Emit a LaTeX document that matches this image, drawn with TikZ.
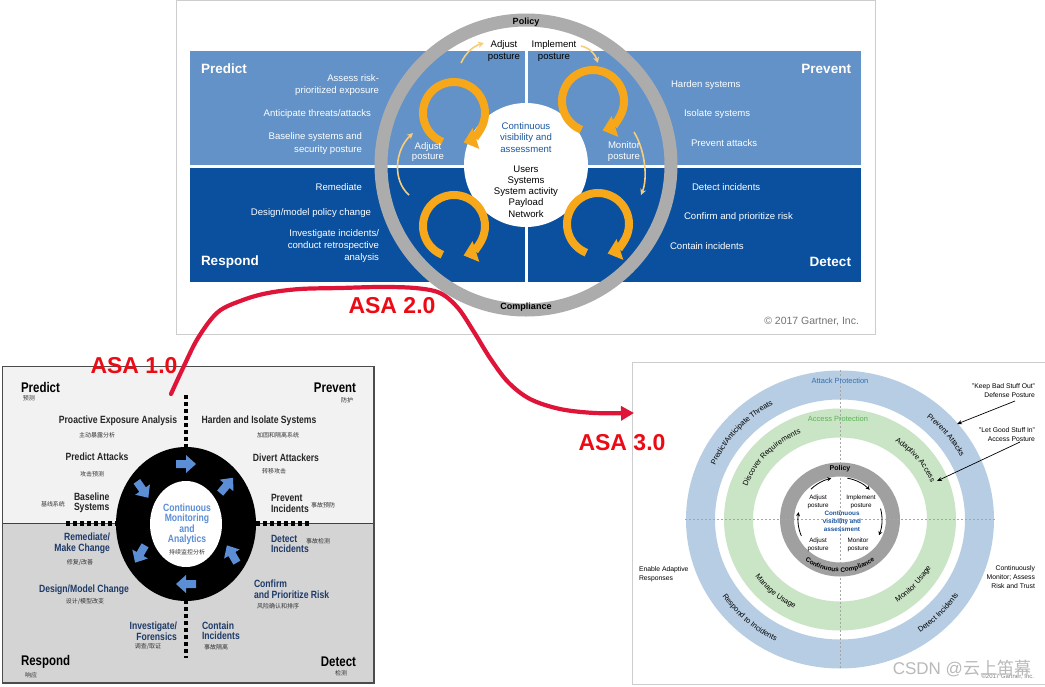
\documentclass[tikz,border=0pt]{standalone}
\usepackage{fontspec}
\setmainfont{Liberation Sans}
\newfontfamily\cjk{Noto Sans CJK SC}
\newfontfamily\narrowf[FakeStretch=0.82]{Liberation Sans}
\usetikzlibrary{arrows.meta,decorations.text}
\definecolor{lblue}{RGB}{98,146,199}
\definecolor{dblue}{RGB}{10,80,158}
\definecolor{ringgray}{RGB}{172,172,172}
\definecolor{orng}{RGB}{246,168,26}
\definecolor{lorng}{RGB}{248,204,120}
\definecolor{visblue}{RGB}{28,88,160}
\definecolor{framegray}{RGB}{205,205,205}
\definecolor{gtop}{RGB}{242,242,242}
\definecolor{gbot}{RGB}{212,212,212}
\definecolor{navy}{RGB}{30,58,104}
\definecolor{arrblue}{RGB}{92,142,214}
\definecolor{asared}{RGB}{222,20,56}
\definecolor{asatext}{RGB}{236,10,20}
\definecolor{ringblue}{RGB}{182,205,227}
\definecolor{ringgreen}{RGB}{202,229,198}
\definecolor{ringgrayb}{RGB}{160,160,160}
\definecolor{attackblue}{RGB}{52,110,178}
\definecolor{accessgreen}{RGB}{86,178,80}
\definecolor{wmgray}{RGB}{185,185,185}
\begin{document}
\begin{tikzpicture}[x=1pt,y=-1pt,
  every node/.style={inner sep=0pt,outer sep=0pt},
  wt/.style={text=white,font=\fontsize{9.6}{12.2}\selectfont},
  wtitle/.style={text=white,font=\bfseries\fontsize{13.5}{15}\selectfont},
  kt/.style={text=black,font=\fontsize{9.6}{11.5}\selectfont,align=center},
  ringlbl/.style={text=black,font=\bfseries\fontsize{9}{10}\selectfont},
  loopar/.style={draw=orng,line width=8,-{Triangle[length=13pt,width=21pt]}},
  thinar/.style={draw=lorng,line width=1.6,-{Stealth[length=6pt,width=6pt]}},
  sqdash/.style={draw=black,line width=4.5,dash pattern=on 4 off 3},
  bt/.style={text=black!85,font=\narrowf\bfseries\fontsize{10.5}{10.5}\selectfont},
  nt/.style={text=navy,font=\narrowf\bfseries\fontsize{10.5}{10.5}\selectfont},
  bttl/.style={text=black,font=\narrowf\bfseries\fontsize{14}{15}\selectfont},
  cn/.style={text=black!80,font=\cjk\fontsize{6}{7}\selectfont},
  asa/.style={text=asatext,font=\bfseries\fontsize{23}{24}\selectfont},
  tiny/.style={text=black,font=\fontsize{6.3}{8}\selectfont,align=center},
  ann/.style={text=black,font=\fontsize{6.8}{8.6}\selectfont},
  annar/.style={draw=black,line width=0.7,-{Stealth[length=5pt,width=4pt]}},
  smallar/.style={draw=black,line width=0.8,-{Stealth[length=4pt,width=4pt]}},
  barrow/.pic={\fill[arrblue] (-10,-4) -- (0,-4) -- (0,-9) -- (10,0) -- (0,9) -- (0,4) -- (-10,4) -- cycle;}
]
\useasboundingbox (0,0) rectangle (1045,686);
\fill[white] (0,0) rectangle (1045,686);

% ================= ASA 2.0 (top) =================
\draw[framegray,line width=1] (176.5,0.5) rectangle (875,334);
\fill[lblue] (190,51) rectangle (524.5,164.5);
\fill[lblue] (527.5,51) rectangle (861,164.5);
\fill[dblue] (190,167.5) rectangle (524.5,282);
\fill[dblue] (527.5,167.5) rectangle (861,282);
\draw[ringgray,line width=13] (526,165) circle[radius=145];
\fill[white] (526,165) circle[radius=62];

\draw[loopar] (454,113) ++(112:31) arc[start angle=112,end angle=432,radius=31];
\draw[loopar] (593,101) ++(112:31) arc[start angle=112,end angle=432,radius=31];
\draw[loopar] (454,226) ++(112:31) arc[start angle=112,end angle=432,radius=31];
\draw[loopar] (598,224) ++(112:31) arc[start angle=112,end angle=432,radius=31];

\draw[thinar] (461,63) .. controls (466,52) and (474,46) .. (484,43);
\draw[thinar] (581,46) .. controls (590,48) and (595,54) .. (598,63);
\draw[thinar] (634,132) .. controls (645,150) and (648,178) .. (641,195);
\draw[thinar] (409,195) .. controls (392,180) and (395,150) .. (413,133);

\node[wtitle,anchor=west] (predict) at (201,69) {Predict};
\node[wt,anchor=east,align=right] (assess) at (379,85) {Assess risk-\\prioritized exposure};
\node[wt,anchor=east] (antic) at (371,114) {Anticipate threats/attacks};
\node[wt,anchor=east,align=right] (basel) at (362,143.5) {Baseline systems and\\security posture};
\node[wtitle,anchor=east] (prevent) at (851,69) {Prevent};
\node[wt,anchor=west] (harden) at (671,85) {Harden systems};
\node[wt,anchor=west] (isolate) at (684,114) {Isolate systems};
\node[wt,anchor=west] (prevatt) at (691,143) {Prevent attacks};
\node[wt,anchor=east] (remed) at (362,187) {Remediate};
\node[wt,anchor=east] (design) at (371,213) {Design/model policy change};
\node[wt,anchor=east,align=right] (invest) at (379,246) {Investigate incidents/\\conduct retrospective\\analysis};
\node[wtitle,anchor=west] (respond) at (201,262) {Respond};
\node[wt,anchor=west] (detinc) at (692,187) {Detect incidents};
\node[wt,anchor=west] (confirm) at (684,217) {Confirm and prioritize risk};
\node[wt,anchor=west] (contain) at (670,246) {Contain incidents};
\node[wtitle,anchor=east] (detect) at (851,262) {Detect};
\node[ringlbl] (policy) at (526,22) {Policy};
\node[ringlbl] (compl) at (526,307.5) {Compliance};
\node[kt] (adj1) at (504,51) {Adjust\\posture};
\node[kt] (impl) at (554,51) {Implement\\posture};
\node[wt,align=center,font=\fontsize{9.6}{10.8}\selectfont] (adj2) at (428,152) {Adjust\\posture};
\node[wt,align=center,font=\fontsize{9.6}{10.8}\selectfont] (mon) at (624,151.5) {Monitor\\posture};
\node[text=visblue,font=\fontsize{9.6}{11.5}\selectfont,align=center] (cva) at (526,137.5) {Continuous\\visibility and\\assessment};
\node[kt,font=\fontsize{9.6}{11.2}\selectfont] (users) at (526,191.5) {Users\\Systems\\System activity\\Payload\\Network};
\node[text=black!55,font=\fontsize{10.5}{12}\selectfont,anchor=east] (gcopy) at (859,322) {\textcopyright{} 2017 Gartner, Inc.};

% ================= ASA 1.0 (bottom left) =================
\fill[gtop] (2,366) rectangle (375,523.5);
\fill[gbot] (2,523.5) rectangle (375,683);
\draw[black!75,line width=1.3] (2,523.5) -- (375,523.5);
\draw[sqdash] (66,523.5) -- (120,523.5);
\draw[sqdash] (256,523.5) -- (311,523.5);
\draw[sqdash] (186,395) -- (186,452);
\draw[sqdash] (186,600) -- (186,658);
\fill[black] (186,524) ellipse[x radius=70,y radius=77];
\fill[white] (186,524) ellipse[x radius=36,y radius=43];
\foreach \a in {270,320,30,90,150,215}
  \pic[rotate=\a+90] at ([shift={(\a:53 and 60)}]186,524) {barrow};
\draw[black!70,line width=1.5] (2.5,366.5) rectangle (374,683);

\node[bttl,anchor=west] (p1) at (21,387) {Predict};
\node[cn] (p1c) at (29,398) {预测};
\node[bttl,anchor=east] (p2) at (356,388) {Prevent};
\node[cn] (p2c) at (347,400) {防护};
\node[bt] (pea) at (118,421) {Proactive Exposure Analysis};
\node[cn] (peac) at (97,435) {主动暴露分析};
\node[bt] (pa) at (97,457) {Predict Attacks};
\node[cn] (pac) at (92,474) {攻击预测};
\node[bt,anchor=west,align=left] (bs) at (74,503) {Baseline\\Systems};
\node[cn] (bsc) at (53,504) {基线系统};
\node[bt] (hi) at (259,421) {Harden and Isolate Systems};
\node[cn] (hic) at (278,435) {加固和隔离系统};
\node[bt] (da) at (286,458) {Divert Attackers};
\node[cn] (dac) at (274,471) {转移攻击};
\node[bt,anchor=west,align=left] (pi) at (271,503.5) {Prevent\\Incidents};
\node[cn] (pic) at (323,505) {事故预防};
\node[nt,anchor=east,align=right] (rm) at (110,543.5) {Remediate/\\Make Change};
\node[cn] (rmc) at (80,563) {修复/改善};
\node[nt] (dm) at (84,590) {Design/Model Change};
\node[cn] (dmc) at (85,601) {设计/模型改变};
\node[nt,anchor=east,align=right] (ivf) at (177,631) {Investigate/\\Forensics};
\node[cn] (ivfc) at (148,647) {调查/取证};
\node[bttl,anchor=west] (rsp) at (21,662) {Respond};
\node[cn] (rspc) at (31,675) {响应};
\node[nt,anchor=west,align=left] (di) at (271,544) {Detect\\Incidents};
\node[cn] (dic) at (318,541) {事故检测};
\node[nt,anchor=west,align=left] (cpr) at (254,589) {Confirm\\and Prioritize Risk};
\node[cn] (cprc) at (278,606) {风险确认和排序};
\node[nt,anchor=west,align=left] (ci) at (202,630.5) {Contain\\Incidents};
\node[cn] (cic) at (216,647) {事故隔离};
\node[bttl,anchor=east] (dt) at (356,662) {Detect};
\node[cn] (dtc) at (341,673) {检测};
\node[text=arrblue,font=\narrowf\bfseries\fontsize{10.5}{10.5}\selectfont,align=center] (cma) at (187,524.5) {Continuous\\Monitoring\\and\\Analytics};
\node[cn] (cmac) at (187,552) {持续监控分析};

% ================= ASA 3.0 (bottom right) =================
\coordinate (c3) at (840,519.5);
\draw[framegray,line width=1] (632.5,362.5) rectangle (1046,684);
\fill[ringblue,even odd rule] (c3) ellipse[x radius=154,y radius=149] (c3) ellipse[x radius=125,y radius=120];
\fill[ringgreen,even odd rule] (c3) ellipse[x radius=116,y radius=111] (c3) ellipse[x radius=87,y radius=82];
\fill[ringgrayb,even odd rule] (c3) ellipse[x radius=60,y radius=57] (c3) ellipse[x radius=46,y radius=43];
\draw[black!35,line width=0.5,dash pattern=on 2 off 2] (840,370) -- (840,669);
\draw[black!35,line width=0.5,dash pattern=on 2 off 2] (685,519) -- (995,519);

\node[text=attackblue,font=\fontsize{7.5}{9}\selectfont] (atk) at (840,381) {Attack Protection};
\node[text=accessgreen,font=\fontsize{7.5}{9}\selectfont] (acc) at (838,419) {Access Protection};

\path[decorate,decoration={text along path,text align=center,text={|\fontsize{7.5}{9}\selectfont|Predict/Anticipate Threats}}]
  (c3) ++(172:137 and 132) arc[start angle=172,end angle=272,x radius=137,y radius=132];
\path[decorate,decoration={text along path,text align=center,text={|\fontsize{7.5}{9}\selectfont|Prevent Attacks}}]
  (c3) ++(271:137 and 132) arc[start angle=271,end angle=371,x radius=137,y radius=132];
\path[decorate,decoration={text along path,text align=center,text={|\fontsize{7.5}{9}\selectfont|Respond to Incidents}}]
  (c3) ++(182:142 and 137) arc[start angle=182,end angle=82,x radius=142,y radius=137];
\path[decorate,decoration={text along path,text align=center,text={|\fontsize{7.5}{9}\selectfont|Detect Incidents}}]
  (c3) ++(94:142 and 137) arc[start angle=94,end angle=-6,x radius=142,y radius=137];
\path[decorate,decoration={text along path,text align=center,text={|\fontsize{7.5}{9}\selectfont|Discover Requirements}}]
  (c3) ++(173:99 and 94) arc[start angle=173,end angle=273,x radius=99,y radius=94];
\path[decorate,decoration={text along path,text align=center,text={|\fontsize{7.5}{9}\selectfont|Adaptive Access}}]
  (c3) ++(271:99 and 94) arc[start angle=271,end angle=371,x radius=99,y radius=94];
\path[decorate,decoration={text along path,text align=center,text={|\fontsize{7.5}{9}\selectfont|Manage Usage}}]
  (c3) ++(181:104 and 99) arc[start angle=181,end angle=81,x radius=104,y radius=99];
\path[decorate,decoration={text along path,text align=center,text={|\fontsize{7.5}{9}\selectfont|Monitor Usage}}]
  (c3) ++(92:104 and 99) arc[start angle=92,end angle=-8,x radius=104,y radius=99];
\path[decorate,decoration={text along path,text align=center,text={|\bfseries\fontsize{6.5}{8}\selectfont|Continuous Compliance}}]
  (c3) ++(150:55.5 and 52.5) arc[start angle=150,end angle=30,x radius=55.5,y radius=52.5];

\node[text=black,font=\bfseries\fontsize{7}{8}\selectfont] (pol3) at (840,469) {Policy};
\node[tiny] (adj3) at (818,502) {Adjust\\posture};
\node[tiny] (imp3) at (861,502) {Implement\\posture};
\node[text=visblue,font=\bfseries\fontsize{6.3}{7.8}\selectfont,align=center] (cva3) at (842,521) {Continuous\\visibility and\\assessment};
\node[tiny] (adj4) at (818,545) {Adjust\\posture};
\node[tiny] (mon3) at (858,545) {Monitor\\posture};
\draw[smallar] (c3) ++(226:42) arc[start angle=226,end angle=258,radius=42];
\draw[smallar] (c3) ++(280:42) arc[start angle=280,end angle=315,radius=42];
\draw[smallar] (c3) ++(345:42) arc[start angle=345,end angle=382,radius=42];
\draw[smallar] (c3) ++(157:42) arc[start angle=157,end angle=190,radius=42];

\node[ann,align=right,anchor=east] (kbo) at (1035,390.5) {"Keep Bad Stuff Out"\\Defense Posture};
\coordinate (kboS) at (1015,401);
\coordinate (kboE) at (957,424);
\draw[annar] (kboS) -- (kboE);
\node[ann,align=right,anchor=east] (lgi) at (1035,434.5) {"Let Good Stuff In"\\Access Posture};
\coordinate (lgiS) at (1020,442);
\coordinate (lgiE) at (937,481);
\draw[annar] (lgiS) -- (lgiE);
\node[ann,align=left,anchor=west] (ear) at (639,574.5) {Enable Adaptive\\Responses};
\node[ann,align=right,anchor=east] (cmr) at (1035,577) {Continuously\\Monitor; Assess\\Risk and Trust};
\node[text=black!50,font=\fontsize{6}{7}\selectfont,anchor=east] (g3) at (1034,677) {\textcopyright 2017 Gartner, Inc.};
\node[text=wmgray,font=\fontsize{17}{18}\selectfont,anchor=east] (wm) at (1031,668) {CSDN @{\cjk 云上笛幕}};

% ================= red ASA curve =================
\coordinate (asaS) at (171,394);
\coordinate (asaE) at (634,413);
\draw[asared,line width=4.2,line cap=round,line join=round,-{Triangle[length=13pt,width=14pt]}]
  plot[smooth,tension=0.55] coordinates {(asaS) (183,368) (198,338) (218,312) (243,300) (268,293) (300,289) (340,288) (380,287) (415,288) (440,293) (458,308) (474,332) (490,358) (508,382) (530,399) (560,409) (595,413) (asaE)};
\node[asa] (asa1) at (134,366) {ASA 1.0};
\node[asa] (asa2) at (392,306) {ASA 2.0};
\node[asa] (asa3) at (622,443) {ASA 3.0};
\end{tikzpicture}
\end{document}
